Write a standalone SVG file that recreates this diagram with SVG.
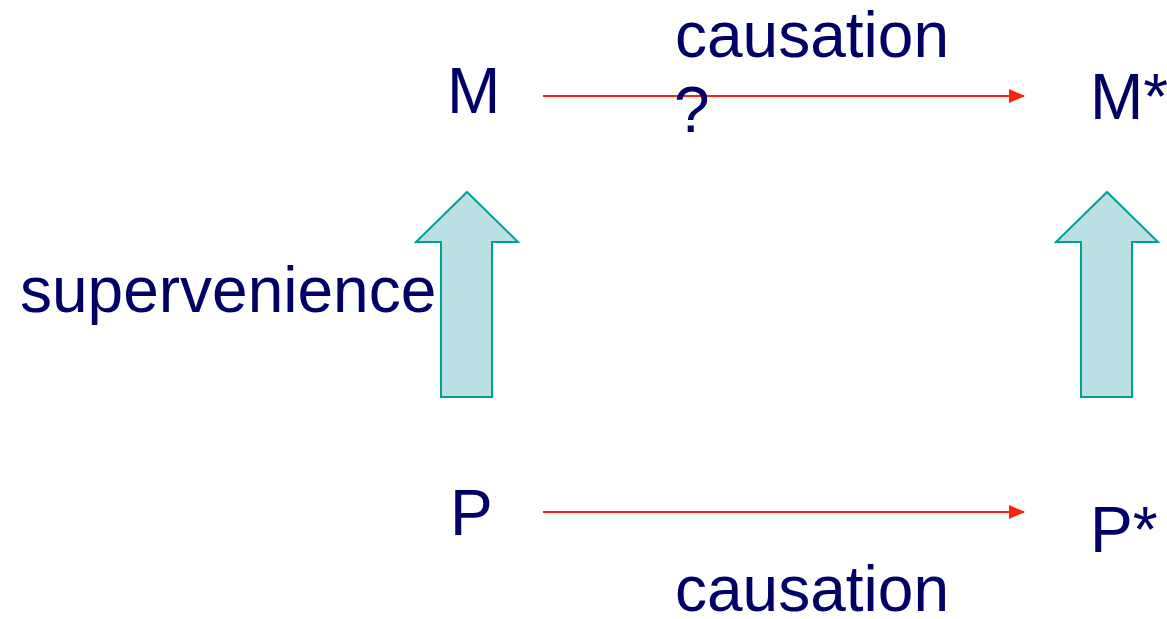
<svg xmlns="http://www.w3.org/2000/svg" width="1167" height="619" viewBox="0 0 1167 619">
  <style>
    .t { font-family: "Liberation Sans", Arial, sans-serif; font-size: 64px; fill: #000066; }
    .up { fill: #BAE0E3; stroke: #00A09A; stroke-width: 2; }
    .c { stroke: #FF2010; stroke-width: 2; fill: none; marker-end: url(#ah); }
  </style>
  <defs>
    <marker id="ah" markerUnits="userSpaceOnUse" markerWidth="16" markerHeight="16" viewBox="0 0 16 16" refX="15" refY="8" orient="auto">
      <path d="M0,1 L16,8 L0,15 Z" fill="#FF2010"/>
    </marker>
  </defs>
  <rect width="1167" height="619" fill="#ffffff"/>
  <g id="connectors">
    <line class="c" x1="543" y1="96" x2="1024" y2="96"/>
    <line class="c" x1="543" y1="512" x2="1024" y2="512"/>
    <path id="supervenience-arrow-left" class="up" d="M467,192 L518,242 L492,242 L492,397 L441,397 L441,242 L416,242 Z"/>
    <path id="supervenience-arrow-right" class="up" d="M1107,192 L1158,242 L1132,242 L1132,397 L1081,397 L1081,242 L1056,242 Z"/>
  </g>
  <g id="node-M"><text class="t" x="447" y="113">M</text></g>
  <g id="node-Mstar"><text class="t" x="1090" y="119">M*</text></g>
  <g id="node-P"><text class="t" x="450" y="535">P</text></g>
  <g id="node-Pstar"><text class="t" x="1090" y="552">P*</text></g>
  <g id="label-causation-top">
    <text class="t" x="675" y="57">causation</text>
    <text class="t" x="674" y="132">?</text>
  </g>
  <g id="label-causation-bottom"><text class="t" x="675" y="611">causation</text></g>
  <g id="label-supervenience"><text class="t" x="20" y="312">supervenience</text></g>
</svg>
